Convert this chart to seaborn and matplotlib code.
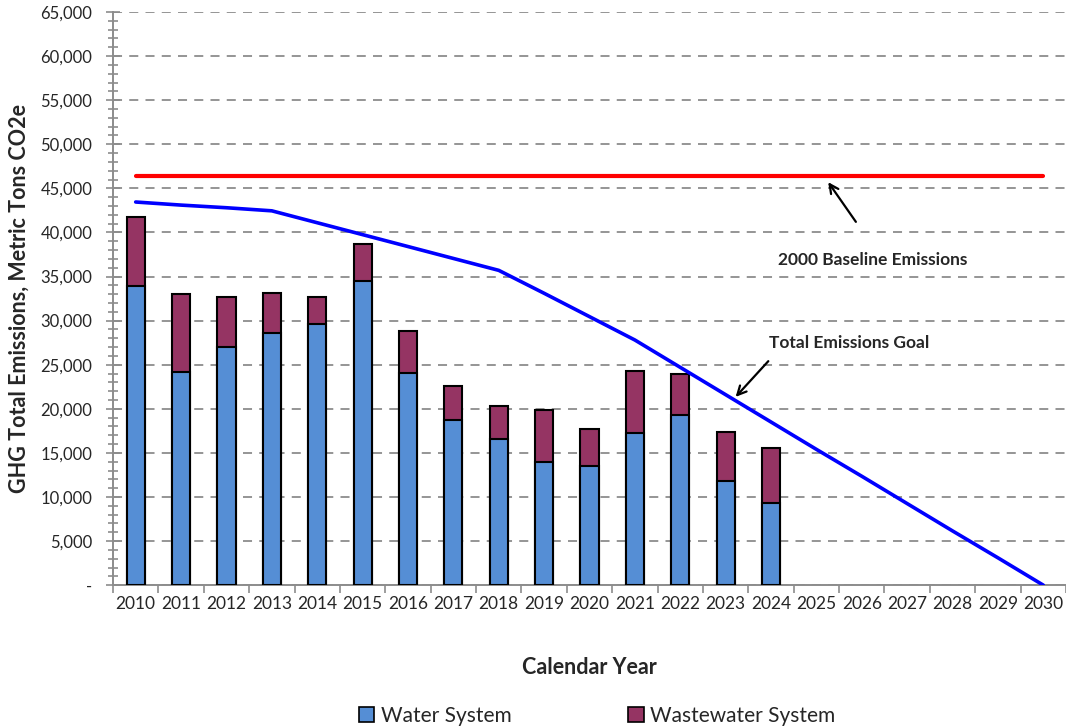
import numpy as np
import pandas as pd
import matplotlib
matplotlib.use("Agg")
import matplotlib.pyplot as plt
from matplotlib.ticker import FixedLocator, MultipleLocator, FuncFormatter
from matplotlib.patches import Patch
import seaborn as sns

# Calendar years on the x axis
years = [str(y) for y in range(2010, 2031)]

# Annual emissions by system (metric tons CO2e), 2010-2024
bar_years = [str(y) for y in range(2010, 2025)]
water_system = [33900, 24200, 27000, 28600, 29600, 34500, 24100, 18750,
                16550, 14000, 13500, 17200, 19250, 11850, 9350]
wastewater_system = [7800, 8800, 5700, 4550, 3100, 4200, 4750, 3850,
                     3800, 5850, 4250, 7100, 4750, 5550, 6250]

# Emissions goal trajectory and 2000 baseline, 2010-2030
goal = [43450, 43100, 42800, 42450, 41100, 39750, 38400, 37050, 35700,
        33100, 30450, 27800, 24700, 21600, 18500, 15400, 12350, 9250,
        6150, 3100, 0]
baseline = [46450] * len(years)

sns.set_theme(style="white")
plt.rcParams["font.family"] = ["Lato", "DejaVu Sans"]

water_color = "#558ED5"
waste_color = "#953463"
grid_color = "#8C8C8C"

df = pd.DataFrame({
    "year": bar_years,
    "water": water_system,
    "total": np.array(water_system) + np.array(wastewater_system),
})

fig = plt.figure(figsize=(10.66, 7.26), dpi=100)
ax = fig.add_axes([0.106, 0.194, 0.894, 0.7895])

# Stacked bars: total (wastewater on top) drawn first, water system over it
sns.barplot(data=df, x="year", y="total", order=years, color=waste_color,
            width=0.4, edgecolor="black", linewidth=1.5, saturation=1,
            ax=ax, zorder=3)
sns.barplot(data=df, x="year", y="water", order=years, color=water_color,
            width=0.4, edgecolor="black", linewidth=1.5, saturation=1,
            ax=ax, zorder=4)

pos = np.arange(len(years))
sns.lineplot(x=pos, y=baseline, color="#FF0000", linewidth=3.0, ax=ax,
             zorder=5)
sns.lineplot(x=pos, y=goal, color="#0000FF", linewidth=2.6, ax=ax, zorder=5)

ax.set_xlim(-0.5, len(years) - 0.5)
ax.set_ylim(0, 65000)

# Y axis: major every 5,000, minor every 1,000
ax.yaxis.set_major_locator(MultipleLocator(5000))
ax.yaxis.set_minor_locator(MultipleLocator(1000))
ax.yaxis.set_major_formatter(
    FuncFormatter(lambda v, p: "-" if v == 0 else f"{int(v):,}"))
ax.tick_params(axis="y", which="both", direction="inout", color=grid_color,
               width=1.2, labelsize=12, pad=10, left=True)
ax.tick_params(axis="y", which="major", length=10)
ax.tick_params(axis="y", which="minor", length=7)

# X axis: labels at centres, tick marks at category boundaries
ax.set_xticks(pos)
ax.set_xticklabels(years)
ax.xaxis.set_minor_locator(FixedLocator(np.arange(-0.5, len(years), 1.0)))
ax.tick_params(axis="x", which="major", length=0, labelsize=12.5, pad=8)
ax.tick_params(axis="x", which="minor", direction="out", length=6,
               width=1.2, color=grid_color, bottom=True)

ax.grid(axis="y", which="major", linestyle=(0, (5, 4)), color=grid_color,
        linewidth=1.3, zorder=0)
ax.grid(axis="x", visible=False)
ax.set_axisbelow(True)

for side in ["top", "right"]:
    ax.spines[side].set_visible(False)
for side in ["left", "bottom"]:
    ax.spines[side].set_color(grid_color)
    ax.spines[side].set_linewidth(1.4)

ax.set_xlabel("Calendar Year", fontsize=15.5, fontweight="bold", labelpad=32)
ax.set_ylabel("GHG Total Emissions, Metric Tons CO2e", fontsize=15.5,
              fontweight="bold")
ax.yaxis.set_label_coords(-0.087, 0.5)

# Callouts for the baseline and goal lines
ax.text(16.25, 36900, "2000 Baseline Emissions", ha="center", va="center",
        fontsize=12.5, fontweight="bold")
ax.annotate("", xy=(15.26, 45700), xytext=(15.87, 41200),
            arrowprops=dict(arrowstyle="->", color="black", lw=1.6,
                            mutation_scale=16, shrinkA=0, shrinkB=0))
ax.text(15.72, 27450, "Total Emissions Goal", ha="center", va="center",
        fontsize=12.5, fontweight="bold")
ax.annotate("", xy=(13.22, 21350), xytext=(13.94, 25400),
            arrowprops=dict(arrowstyle="->", color="black", lw=1.6,
                            mutation_scale=16, shrinkA=0, shrinkB=0))

handles = [Patch(facecolor=water_color, edgecolor="black", linewidth=1.2),
           Patch(facecolor=waste_color, edgecolor="black", linewidth=1.2)]
fig.legend(handles, ["Water System", "Wastewater System"], ncol=2,
           loc="center", bbox_to_anchor=(0.56, 0.014), frameon=False,
           fontsize=15, handlelength=0.75, handleheight=0.75,
           handletextpad=0.3, columnspacing=5.6)

fig.savefig("out.png", dpi=100)
